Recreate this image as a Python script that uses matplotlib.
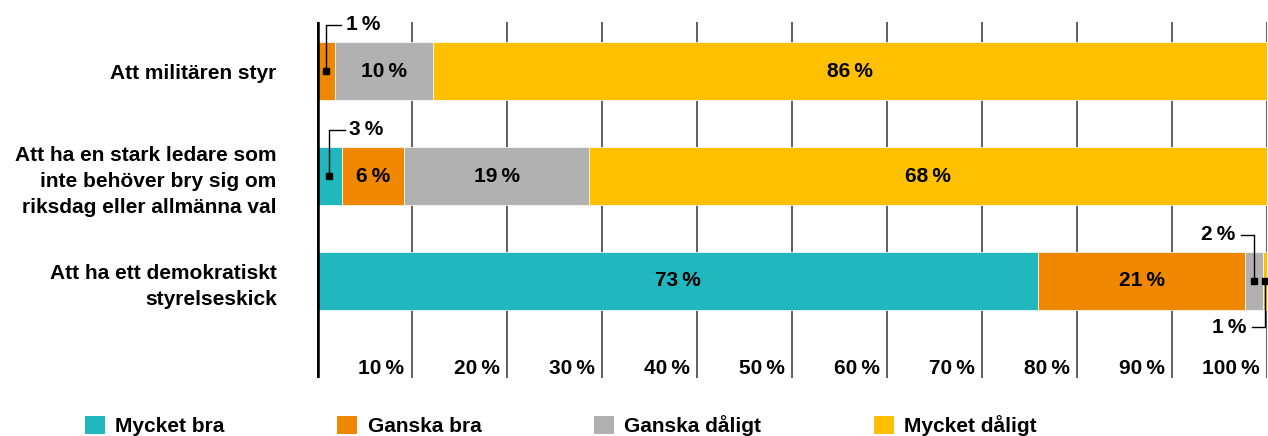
import matplotlib
matplotlib.use("Agg")
import matplotlib.pyplot as plt
from matplotlib.patches import Patch
from matplotlib.transforms import blended_transform_factory

plt.rcParams['font.family'] = ['Liberation Sans', 'DejaVu Sans']
plt.rcParams['font.weight'] = 'bold'
plt.rcParams['font.size'] = 15

categories = ["Att militären styr",
              "Att ha en stark ledare som\ninte behöver bry sig om\nriksdag eller allmänna val",
              "Att ha ett demokratiskt\nstyrelseskick"]
series = ["Mycket bra", "Ganska bra", "Ganska dåligt", "Mycket dåligt"]
colors = ["#20b7be", "#f08700", "#b1b1b1", "#ffc000"]

# bar shares as drawn (each bar fills 100)
mycket_bra = [0.0, 2.6, 75.9]
ganska_bra = [1.9, 6.6, 21.8]
ganska_daligt = [10.3, 19.4, 1.9]
mycket_daligt = [87.8, 71.4, 0.4]

# percentages printed on the chart
pct_mycket_bra = [None, 3, 73]
pct_ganska_bra = [1, 6, 21]
pct_ganska_daligt = [10, 19, 2]
pct_mycket_daligt = [86, 68, 1]

ticks = [10, 20, 30, 40, 50, 60, 70, 80, 90, 100]

values = [mycket_bra, ganska_bra, ganska_daligt, mycket_daligt]
pcts = [pct_mycket_bra, pct_ganska_bra, pct_ganska_daligt, pct_mycket_daligt]

fig = plt.figure(figsize=(12.68, 4.36), dpi=100)
ax = fig.add_axes([317 / 1268, 1 - 378 / 436, 950 / 1268, 356 / 436])

ypos = list(range(len(categories)))
left = [0.0] * len(categories)
small = [[] for _ in categories]
for vals, lbls, col in zip(values, pcts, colors):
    ax.barh(ypos, vals, left=left, height=0.55, color=col,
            edgecolor="white", linewidth=0.5, zorder=3)
    for i, (v, l) in enumerate(zip(vals, lbls)):
        mid = left[i] + v / 2
        if l is None:
            pass
        elif v >= 5:
            ax.text(mid, i, f"{l}\u2009%", ha="center", va="center", zorder=4)
        else:
            small[i].append((mid, l))
        left[i] += v

# leader lines for the thin segments
for i, items in enumerate(small):
    right_side = [it for it in items if it[0] > 50]
    for mid, l in items:
        if mid < 50:
            dy, dx, ha = -0.44, 1.6, "left"
        else:
            k = right_side.index((mid, l))
            dy = -0.44 if k == 0 else 0.44
            dx, ha = -1.4, "right"
        ax.plot([mid, mid, mid + dx], [i, i + dy, i + dy], color="black",
                lw=1.0, zorder=5, clip_on=False)
        ax.plot(mid, i, "s", ms=4, color="black", zorder=6, clip_on=False)
        tx = mid + dx + (0.5 if dx > 0 else -0.6)
        ax.text(tx, i + dy, f"{l}\u2009%", ha=ha, va="center", zorder=6)

ax.set_xlim(0, 100)
ax.set_ylim(2.924, -0.467)
ax.set_xticks(ticks)
ax.tick_params(axis="x", length=0, labelbottom=False)
ax.grid(axis="x", color="#444444", lw=1.2, zorder=0)
ax.set_axisbelow(True)
for s in ax.spines.values():
    s.set_visible(False)
ax.axvline(0, color="black", lw=4.0, zorder=7)

ax.set_yticks(ypos, categories)
ax.tick_params(axis="y", length=0, pad=29)
for lbl in ax.get_yticklabels():
    lbl.set_linespacing(1.45)

trans = blended_transform_factory(ax.transData, ax.transAxes)
for t in ticks:
    ax.text(t - 0.8, 0.028, f"{t}\u2009%", ha="right", va="center",
            transform=trans)

handles = [Patch(facecolor=c, edgecolor="none") for c in colors]
fig.legend(handles, series, loc="lower left", bbox_to_anchor=(85 / 1268, 0.0),
           ncol=4, frameon=False, borderpad=0, borderaxespad=0,
           handlelength=0.96, handleheight=1.0, handletextpad=0.5,
           columnspacing=5.4)

fig.savefig("out.png", dpi=100)
